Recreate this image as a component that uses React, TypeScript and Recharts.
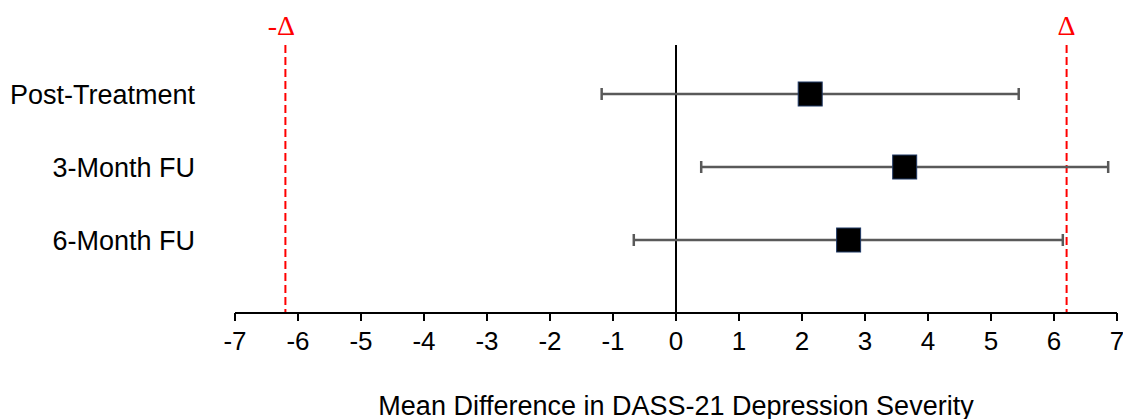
import { ScatterChart, Scatter, XAxis, YAxis, ErrorBar, ReferenceLine } from 'recharts';

const categories = ['Post-Treatment', '3-Month FU', '6-Month FU'];
const meanDiff = [2.13, 3.63, 2.74];
const ciLower = [-1.18, 0.4, -0.67];
const ciUpper = [5.44, 6.86, 6.14];
const xTicks = [-7, -6, -5, -4, -3, -2, -1, 0, 1, 2, 3, 4, 5, 6, 7];
const delta = 6.2;
const lineTop = 0.33;

const data = categories.map((name, i) => ({
  name,
  row: i + 1,
  mean: meanDiff[i],
  err: [meanDiff[i] - ciLower[i], ciUpper[i] - meanDiff[i]],
}));

const FONT = '"Liberation Sans", Arial, sans-serif';
const SERIF = '"Liberation Serif", "Times New Roman", serif';

const Square = (props: any) => {
  const { cx, cy } = props;
  const s = 24;
  return <rect x={cx - s / 2} y={cy - s / 2} width={s} height={s} fill="#000" stroke="#1F3864" strokeWidth={1} />;
};

export default function App() {
  return (
    <div style={{ width: 1123, height: 419 }}>
      <style>{'body { margin: 0; } .recharts-surface { overflow: visible; }'}</style>
      <ScatterChart width={1123} height={419} margin={{ top: 21, right: 6, bottom: 0, left: 0 }}>
        <XAxis
          type="number"
          dataKey="mean"
          domain={[-7, 7]}
          ticks={xTicks}
          interval={0}
          axisLine={{ stroke: '#000', strokeWidth: 2 }}
          tickLine={{ stroke: '#000', strokeWidth: 2 }}
          tickSize={8}
          tickMargin={11}
          tick={{ fill: '#000', fontSize: 26, fontFamily: FONT }}
          height={106}
          label={{ value: 'Mean Difference in DASS-21 Depression Severity', position: 'insideBottom', offset: 4, fill: '#000', fontSize: 27, fontFamily: FONT }}
        />
        <YAxis
          type="number"
          dataKey="row"
          domain={[0, 4]}
          reversed
          ticks={[1, 2, 3]}
          tickFormatter={(v: number) => categories[v - 1] ?? ''}
          axisLine={false}
          tickLine={false}
          tickSize={0}
          tickMargin={40}
          width={235}
          tick={{ fill: '#000', fontSize: 27, fontFamily: FONT }}
        />
        <ReferenceLine
          segment={[{ x: 0, y: lineTop }, { x: 0, y: 4 }]}
          stroke="#000"
          strokeWidth={2}
        />
        <ReferenceLine
          segment={[{ x: -delta, y: lineTop }, { x: -delta, y: 4 }]}
          stroke="#FF0000"
          strokeWidth={2}
          strokeDasharray="8 4"
          label={{ value: '-Δ', position: 'top', offset: 10, fill: '#FF0000', fontSize: 28, fontFamily: SERIF, dx: -4 }}
        />
        <ReferenceLine
          segment={[{ x: delta, y: lineTop }, { x: delta, y: 4 }]}
          stroke="#FF0000"
          strokeWidth={2}
          strokeDasharray="8 4"
          label={{ value: 'Δ', position: 'top', offset: 10, fill: '#FF0000', fontSize: 28, fontFamily: SERIF }}
        />
        <Scatter data={data} shape={<Square />} isAnimationActive={false}>
          <ErrorBar dataKey="err" direction="x" width={6} stroke="#595959" strokeWidth={2.5} />
        </Scatter>
      </ScatterChart>
    </div>
  );
}
